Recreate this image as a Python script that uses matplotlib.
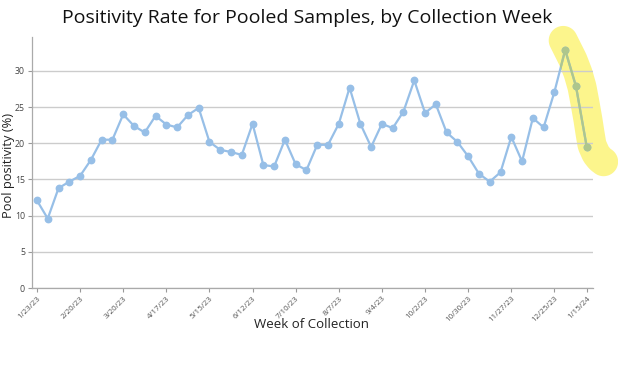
import numpy as np
import matplotlib
matplotlib.use("Agg")
import matplotlib.pyplot as plt
import matplotlib.dates as mdates
from matplotlib.patches import Polygon
import datetime as dt

# ---- data ----
start = dt.date(2023, 1, 23)
weeks = [start + dt.timedelta(weeks=i) for i in range(52)]
positivity = [12.1, 9.6, 13.8, 14.7, 15.5, 17.7, 20.5, 20.5, 24.0, 22.4,
              21.5, 23.8, 22.6, 22.2, 23.9, 24.9, 20.2, 19.1, 18.8, 18.4,
              22.7, 17.0, 16.8, 20.5, 17.1, 16.3, 19.8, 19.8, 22.7, 27.7,
              22.7, 19.5, 22.7, 22.1, 24.4, 28.7, 24.2, 25.4, 21.5, 20.2,
              18.2, 15.8, 14.7, 16.0, 20.9, 17.5, 23.5, 22.2, 27.1, 32.9,
              27.9, 19.5]
tick_idx = [0, 4, 8, 12, 16, 20, 24, 28, 32, 36, 40, 44, 48, 51]
tick_labels = ["1/23/23", "2/20/23", "3/20/23", "4/17/23", "5/15/23", "6/12/23",
               "7/10/23", "8/7/23", "9/4/23", "10/2/23", "10/30/23", "11/27/23",
               "12/25/23", "1/15/24"]
y_ticks = [0, 5, 10, 15, 20, 25, 30]

W, H = 618, 382
fig = plt.figure(figsize=(W/100, H/100), dpi=100)
font = "Open Sans"

x0, x1, y0, y1 = 32, 593, 37, 288
ax = fig.add_axes([x0/W, 1 - y1/H, (x1 - x0)/W, (y1 - y0)/H])

xd = mdates.date2num(weeks)
ax.set_xlim(xd[0] - 0.46*7, xd[0] + 51.58*7)
ax.set_ylim(0, 34.7)

line_color = "#97bfe7"
ax.plot(xd, positivity, color=line_color, lw=1.6, marker="o", ms=4.6,
        mec=line_color, mfc=line_color, zorder=3)

ax.set_yticks(y_ticks)
ax.set_yticklabels([str(v) for v in y_ticks], fontsize=6.3, color="#444444",
                   family=font)
ax.set_xticks([xd[i] for i in tick_idx])
ax.set_xticklabels(tick_labels, rotation=45, ha="right", rotation_mode="anchor",
                   fontsize=5.8, color="#555555", family=font)
ax.tick_params(axis="y", length=3, width=0.8, color="#999999", pad=2)
ax.tick_params(axis="x", length=3, width=0.8, color="#999999", pad=2)
for s in ["top", "right"]:
    ax.spines[s].set_visible(False)
for s in ["left", "bottom"]:
    ax.spines[s].set_color("#aaaaaa")
    ax.spines[s].set_linewidth(0.9)
ax.grid(axis="y", color="#cccccc", lw=1.0)
ax.set_axisbelow(True)

ax.set_xlabel("Week of Collection", fontsize=9.5, family=font, color="#222222")
ax.xaxis.set_label_coords((312 - x0)/(x1 - x0), -(324 - y1)/(y1 - y0))
ax.xaxis.label.set_va("center")
ax.set_ylabel("Pool positivity (%)", fontsize=9.3, family=font, color="#222222")
ax.yaxis.set_label_coords((8.5 - x0)/(x1 - x0), (y1 - 165)/(y1 - y0))
ax.yaxis.label.set_va("center")
fig.text(307/W, 1 - 18/H, "Positivity Rate for Pooled Samples, by Collection Week",
         ha="center", va="center", fontsize=14, family=font, color="#111111")

# ---- highlighter annotation (figure pixel coordinates) ----
cl = np.array([(563, 40), (568, 50), (573, 60), (578, 73), (582, 87), (585, 103),
               (588, 120), (590, 133), (592, 145), (596, 154), (600, 159),
               (604, 162)], dtype=float)
seg = np.r_[0, np.cumsum(np.hypot(*np.diff(cl, axis=0).T))]
tt = np.linspace(0, seg[-1], 300)
cx = np.interp(tt, seg, cl[:, 0]); cy = np.interp(tt, seg, cl[:, 1])
k = 9
ker = np.ones(k)/k
cxs = np.convolve(np.pad(cx, k//2, mode="edge"), ker, mode="valid")
cys = np.convolve(np.pad(cy, k//2, mode="edge"), ker, mode="valid")
dx = np.gradient(cxs); dy = np.gradient(cys)
n = np.hypot(dx, dy); nx, ny = -dy/n, dx/n
hw = 14.5
left = np.c_[cxs + nx*hw, cys + ny*hw]
right = np.c_[cxs - nx*hw, cys - ny*hw]
def cap(c, d, sign):
    ang0 = np.arctan2(d[1], d[0])
    if sign > 0:
        a = np.linspace(ang0 + np.pi/2, ang0 - np.pi/2, 30)
    else:
        a = np.linspace(ang0 - np.pi/2, ang0 - 3*np.pi/2, 30)
    return np.c_[c[0] + hw*np.cos(a), c[1] + hw*np.sin(a)]
d_end = (dx[-1]/n[-1], dy[-1]/n[-1]); d_st = (dx[0]/n[0], dy[0]/n[0])
end_cap = cap((cxs[-1], cys[-1]), d_end, 1)
st_cap = cap((cxs[0], cys[0]), d_st, -1)
poly = np.vstack([left, end_cap, right[::-1], st_cap])
polyf = np.c_[poly[:, 0]/W, 1 - poly[:, 1]/H]
hl = Polygon(polyf, closed=True, transform=fig.transFigure, facecolor="#fcf58c",
             edgecolor="none", zorder=2)
fig.add_artist(hl)
ax.set_zorder(3)
ax.patch.set_alpha(0)
g, = ax.plot(xd, positivity, color="#aec68c", lw=1.6, marker="o", ms=4.6,
             mec="#aec68c", mfc="#aec68c", zorder=4)
clip = Polygon(polyf, closed=True, transform=fig.transFigure)
g.set_clip_path(clip)

fig.savefig("out.png", dpi=100)
